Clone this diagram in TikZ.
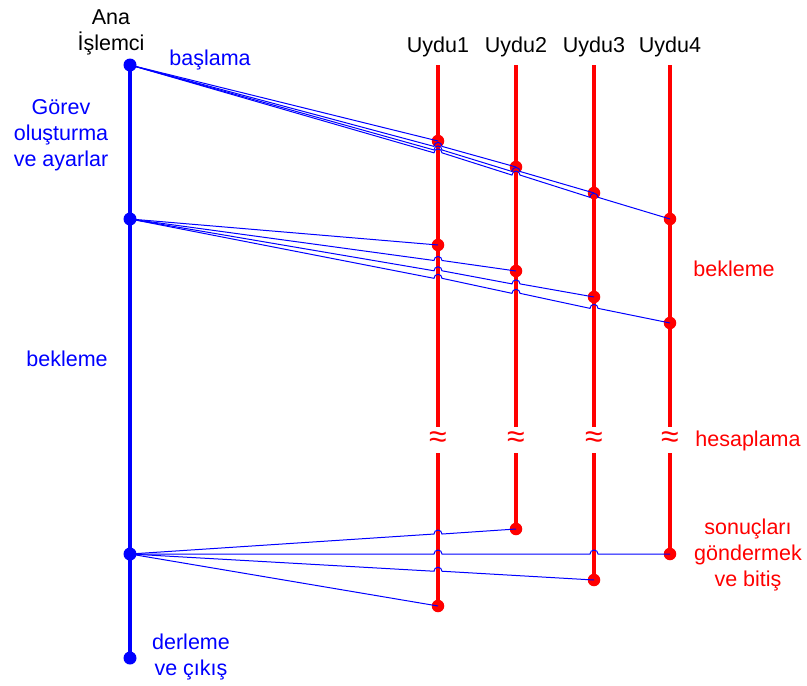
\documentclass[tikz,border=0pt]{standalone}
\usepackage{fontspec}
\setmainfont{Liberation Sans}
\begin{document}
\begin{tikzpicture}[x=1pt,y=-1pt,
  txt/.style={font=\fontsize{21.5}{26}\selectfont,inner sep=0pt,align=center,anchor=base},
  blacktxt/.style={txt,text=black},
  bluetxt/.style={txt,text=blue},
  redtxt/.style={txt,text=red},
  bdot/.style={circle,fill=blue,inner sep=0pt,minimum size=13pt},
  rdot/.style={circle,fill=red,inner sep=0pt,minimum size=12.5pt},
  mainline/.style={blue,line width=4pt},
  satline/.style={red,line width=4pt},
  msg/.style={blue,line width=1pt},
  brk/.style={text=red,inner sep=0pt,font=\fontsize{32}{32}\selectfont},
]
\useasboundingbox (0,0) rectangle (807,686);

% main processor timeline
\coordinate (m0) at (130,65);
\draw[mainline] (m0) -- (130,658);
\node[bdot] (m1) at (130,65) {};
\node[bdot] (m2) at (130,219) {};
\node[bdot] (m3) at (130,554) {};
\node[bdot] (m4) at (130,658) {};

% satellite timelines
\foreach \n/\x/\e in {1/438/606, 2/516/529, 3/594/580, 4/670/554} {
  \coordinate (u\n t) at (\x,65);
  \coordinate (u\n a) at (\x,427);
  \coordinate (u\n c) at (\x,453);
  \coordinate (u\n b) at (\x,\e);
  \draw[satline] (u\n t) -- (u\n a);
  \draw[satline] (u\n c) -- (u\n b);
  \node[brk] (z\n) at (\x,440) {≈};
  \node[blacktxt] (l\n) at (\x,52) {Uydu\n};
}

% satellite event dots
\node[rdot] (a1) at (438,141) {};
\node[rdot] (a2) at (516,167) {};
\node[rdot] (a3) at (594,193) {};
\node[rdot] (a4) at (670,219) {};
\node[rdot] (b1) at (438,245) {};
\node[rdot] (b2) at (516,271) {};
\node[rdot] (b3) at (594,297) {};
\node[rdot] (b4) at (670,323) {};
\node[rdot] (e1) at (u1b) {};
\node[rdot] (e2) at (u2b) {};
\node[rdot] (e3) at (u3b) {};
\node[rdot] (e4) at (u4b) {};

% crossing points of the messages with the satellite lines
\coordinate (h a2 1) at (intersection of m1--a2 and u1t--u1b);
\coordinate (h a3 1) at (intersection of m1--a3 and u1t--u1b);
\coordinate (h a3 2) at (intersection of m1--a3 and u2t--u2b);
\coordinate (h a4 1) at (intersection of m1--a4 and u1t--u1b);
\coordinate (h a4 2) at (intersection of m1--a4 and u2t--u2b);
\coordinate (h a4 3) at (intersection of m1--a4 and u3t--u3b);
\coordinate (h b2 1) at (intersection of m2--b2 and u1t--u1b);
\coordinate (h b3 1) at (intersection of m2--b3 and u1t--u1b);
\coordinate (h b3 2) at (intersection of m2--b3 and u2t--u2b);
\coordinate (h b4 1) at (intersection of m2--b4 and u1t--u1b);
\coordinate (h b4 2) at (intersection of m2--b4 and u2t--u2b);
\coordinate (h b4 3) at (intersection of m2--b4 and u3t--u3b);
\coordinate (h e2 1) at (intersection of m3--e2 and u1t--u1b);
\coordinate (h e3 1) at (intersection of m3--e3 and u1t--u1b);
\coordinate (h e4 1) at (intersection of m3--e4 and u1t--u1b);
\coordinate (h e4 3) at (intersection of m3--e4 and u3t--u3b);

% messages, hopping over the lines they cross
\def\hop#1{-- ([xshift=-4pt]#1) arc[start angle=180,end angle=0,radius=4pt]}
\draw[msg] (m1.center) -- (a1.center);
\draw[msg] (m1.center) \hop{h a2 1} -- (a2.center);
\draw[msg] (m1.center) \hop{h a3 1} \hop{h a3 2} -- (a3.center);
\draw[msg] (m1.center) \hop{h a4 1} \hop{h a4 2} \hop{h a4 3} -- (a4.center);
\draw[msg] (m2.center) -- (b1.center);
\draw[msg] (m2.center) \hop{h b2 1} -- (b2.center);
\draw[msg] (m2.center) \hop{h b3 1} \hop{h b3 2} -- (b3.center);
\draw[msg] (m2.center) \hop{h b4 1} \hop{h b4 2} \hop{h b4 3} -- (b4.center);
\draw[msg] (m3.center) \hop{h e2 1} -- (e2.center);
\draw[msg] (m3.center) \hop{h e4 1} \hop{h e4 3} -- (e4.center);
\draw[msg] (m3.center) \hop{h e3 1} -- (e3.center);
\draw[msg] (m3.center) -- (e1.center);

% labels (anchored at the baseline of the last line)
\node[blacktxt] (ana) at (111,50) {Ana\\İşlemci};
\node[bluetxt] (basla) at (210,65) {başlama};
\node[bluetxt] (gorev) at (61,166) {Görev\\oluşturma\\ve ayarlar};
\node[bluetxt] (bekm) at (67,366) {bekleme};
\node[bluetxt] (derle) at (191,675) {derleme\\ve çıkış};
\node[redtxt] (beks) at (734,276) {bekleme};
\node[redtxt] (hesap) at (748,446) {hesaplama};
\node[redtxt] (sonuc) at (748,586) {sonuçları\\göndermek\\ve bitiş};
\end{tikzpicture}
\end{document}
